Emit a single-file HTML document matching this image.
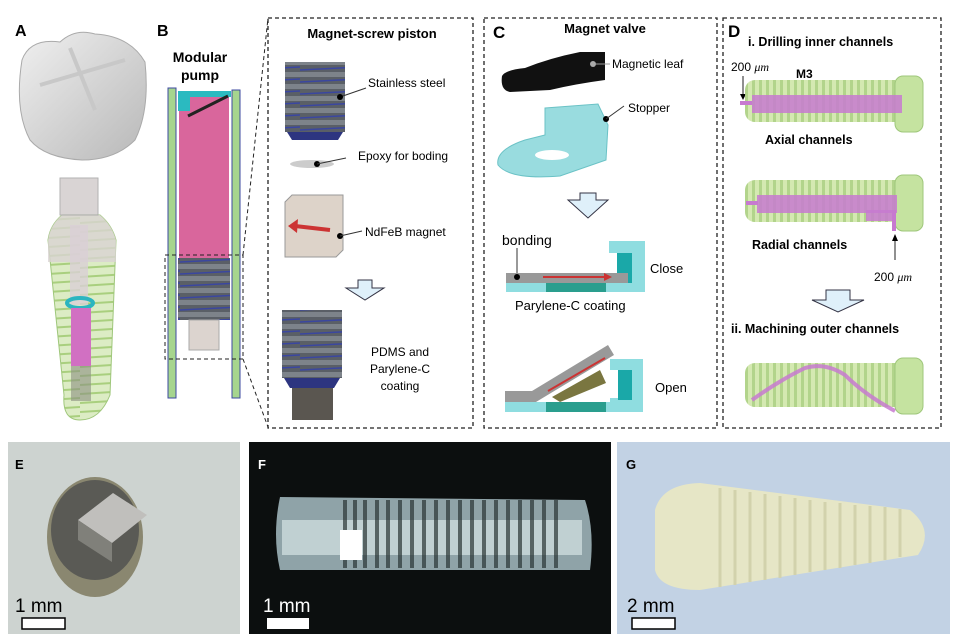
<!DOCTYPE html>
<html><head><meta charset="utf-8"><style>
body{margin:0;background:#fff;width:955px;height:640px;overflow:hidden}
svg{display:block}
text{font-family:"Liberation Sans",Arial,sans-serif}
.b{font-weight:bold}
</style></head><body>
<svg width="955" height="640" viewBox="0 0 955 640" xmlns="http://www.w3.org/2000/svg">
<defs>
<pattern id="thr" width="7" height="56" patternUnits="userSpaceOnUse"><rect width="7" height="56" fill="#cfe6a8"/><rect x="3" width="3" height="56" fill="#a9cf7e"/></pattern>
<pattern id="thrh" width="80" height="9" patternUnits="userSpaceOnUse"><rect width="80" height="9" fill="#dcecc4"/><line x1="0" y1="7" x2="80" y2="2" stroke="#a9cf7e" stroke-width="2"/></pattern>
<pattern id="scr" width="60" height="12" patternUnits="userSpaceOnUse"><rect width="60" height="12" fill="#5a5f66"/><rect y="0" width="60" height="5" fill="#7d838a"/><line x1="0" y1="10" x2="60" y2="7" stroke="#3a46a0" stroke-width="1.5"/></pattern>
<linearGradient id="crown" x1="0" y1="0" x2="1" y2="1"><stop offset="0" stop-color="#f0f0f0"/><stop offset="1" stop-color="#b8b8b8"/></linearGradient>
</defs>

<!-- A -->
<text x="15" y="36" font-size="16" class="b">A</text>
<path d="M22 60 Q30 38 60 42 Q75 28 95 34 Q130 36 145 62 Q150 110 135 140 Q115 160 82 160 Q45 158 30 140 Q14 110 22 60Z" fill="url(#crown)" stroke="#aaa"/>
<path d="M40 85 L125 60 M70 48 L95 110" stroke="#c8c8c8" stroke-width="4"/>
<path d="M48 240 Q50 225 62 215 L100 215 Q112 225 116 240 L110 395 Q100 420 80 420 Q62 420 64 395Z" fill="url(#thrh)" stroke="#9fc77b"/>
<path d="M48 240 Q50 225 62 215 L100 215 Q112 225 116 240 L116 262 L48 262Z" fill="#d9d3d3" opacity=".8"/>
<rect x="60" y="178" width="38" height="37" fill="#d5d0d0" stroke="#aaa" opacity=".9"/>
<rect x="70" y="225" width="18" height="80" fill="#d9cfd6" opacity=".8"/>
<ellipse cx="80" cy="303" rx="13" ry="5" fill="none" stroke="#2bb5c0" stroke-width="4"/>
<rect x="71" y="308" width="20" height="58" fill="#d170c2"/>
<rect x="71" y="366" width="20" height="35" fill="#8b9080" opacity=".6"/>

<!-- B -->
<text x="157" y="36" font-size="16" class="b">B</text>
<text x="200" y="62" font-size="14" class="b" text-anchor="middle">Modular</text>
<text x="200" y="80" font-size="14" class="b" text-anchor="middle">pump</text>
<rect x="168" y="88" width="8" height="310" fill="#a6d58e" stroke="#3d4aa0"/>
<rect x="232" y="90" width="8" height="308" fill="#a6d58e" stroke="#3d4aa0"/>
<rect x="179" y="92" width="50" height="166" fill="#d9669c"/>
<rect x="178" y="91" width="53" height="6" fill="#2bbac0"/>
<rect x="178" y="91" width="12" height="20" fill="#2bbac0"/>
<line x1="188" y1="116" x2="228" y2="96" stroke="#222" stroke-width="3"/>
<rect x="178" y="258" width="52" height="62" fill="url(#scr)"/>
<rect x="189" y="320" width="30" height="30" fill="#dcd4cf" stroke="#aaa"/>
<rect x="165" y="255" width="78" height="104" fill="none" stroke="#222" stroke-dasharray="4,3"/>
<line x1="243" y1="255" x2="268" y2="18" stroke="#222" stroke-dasharray="4,3"/>
<line x1="243" y1="359" x2="268" y2="427" stroke="#222" stroke-dasharray="4,3"/>
<rect x="268" y="18" width="205" height="410" fill="none" stroke="#222" stroke-dasharray="4,3" stroke-width="1.3"/>
<text x="372" y="38" font-size="13" class="b" text-anchor="middle">Magnet-screw piston</text>
<rect x="285" y="62" width="60" height="70" fill="url(#scr)"/>
<path d="M287 132 L343 132 L338 140 L292 140Z" fill="#2d3580"/>
<line x1="340" y1="97" x2="366" y2="88" stroke="#333"/><circle cx="340" cy="97" r="3"/>
<text x="368" y="87" font-size="12">Stainless steel</text>
<ellipse cx="312" cy="164" rx="22" ry="4" fill="#ccc"/>
<circle cx="317" cy="164" r="3"/><line x1="317" y1="164" x2="346" y2="158" stroke="#333"/>
<text x="358" y="160" font-size="12">Epoxy for boding</text>
<path d="M285 202 L292 195 L343 195 L343 250 L336 257 L285 257Z" fill="#ddd3c9" stroke="#999"/>
<line x1="330" y1="230" x2="295" y2="226" stroke="#c33" stroke-width="4"/>
<path d="M288 226 L298 219 L297 233Z" fill="#c33"/>
<circle cx="340" cy="236" r="3"/><line x1="340" y1="236" x2="362" y2="231" stroke="#333"/>
<text x="365" y="236" font-size="12">NdFeB magnet</text>
<path d="M346 288 L358 288 L358 280 L372 280 L372 288 L384 288 L365 300Z" fill="#dff0fa" stroke="#334"/>
<rect x="282" y="310" width="60" height="68" fill="url(#scr)"/>
<path d="M284 378 L340 378 L334 388 L290 388Z" fill="#2d3580"/>
<rect x="292" y="388" width="41" height="32" fill="#5a5650"/>
<text x="400" y="356" font-size="12" text-anchor="middle">PDMS and</text>
<text x="400" y="373" font-size="12" text-anchor="middle">Parylene-C</text>
<text x="400" y="390" font-size="12" text-anchor="middle">coating</text>

<!-- C -->
<rect x="484" y="18" width="233" height="410" fill="none" stroke="#222" stroke-dasharray="4,3" stroke-width="1.3"/>
<text x="493" y="38" font-size="17" class="b">C</text>
<text x="605" y="33" font-size="13" class="b" text-anchor="middle">Magnet valve</text>
<path d="M502 76 Q505 70 525 68 Q550 58 580 52 L605 52 L605 80 Q575 84 550 90 L510 92 Q500 90 502 76Z" fill="#111"/>
<circle cx="593" cy="64" r="3" fill="#aaa"/><line x1="596" y1="64" x2="610" y2="64" stroke="#999"/>
<text x="612" y="68" font-size="12">Magnetic leaf</text>
<path d="M545 108 L598 104 L608 125 L606 160 L560 176 Q510 180 498 165 Q495 150 525 140 L545 135Z" fill="#8fd9dc" stroke="#5bbcc0" opacity=".9"/>
<ellipse cx="552" cy="155" rx="17" ry="5" fill="#fff"/>
<circle cx="606" cy="119" r="3"/><line x1="606" y1="119" x2="624" y2="106" stroke="#333"/>
<text x="628" y="112" font-size="12">Stopper</text>
<path d="M568 200 L580 200 L580 193 L596 193 L596 200 L608 200 L588 218Z" fill="#dff0fa" stroke="#334"/>
<text x="502" y="245" font-size="14">bonding</text>
<line x1="517" y1="248" x2="517" y2="276" stroke="#333"/>
<rect x="506" y="282" width="139" height="10" fill="#8fdde0"/>
<rect x="546" y="282" width="60" height="10" fill="#2a9e8e"/>
<path d="M609 241 L645 241 L645 292 L609 292 L609 274 L625 274 L625 253 L609 253Z" fill="#8fdde0"/>
<rect x="617" y="253" width="15" height="30" fill="#1aa8a8"/>
<rect x="506" y="273" width="122" height="10" fill="#999"/>
<circle cx="517" cy="277" r="3"/>
<line x1="543" y1="277" x2="608" y2="277" stroke="#c33" stroke-width="2"/>
<path d="M612 277 L604 273 L604 281Z" fill="#c33"/>
<text x="650" y="273" font-size="13">Close</text>
<text x="515" y="310" font-size="13">Parylene-C coating</text>
<rect x="505" y="402" width="138" height="10" fill="#8fdde0"/>
<rect x="546" y="402" width="60" height="10" fill="#2a9e8e"/>
<path d="M610 359 L643 359 L643 412 L610 412 L610 398 L628 398 L628 370 L610 370Z" fill="#8fdde0"/>
<rect x="618" y="370" width="14" height="30" fill="#1aa8a8"/>
<path d="M552 397 L600 370 L606 383 L560 402Z" fill="#7a7640"/>
<path d="M505 391 L532 391 L608 345 L614 355 L536 402 L505 402Z" fill="#999"/>
<line x1="548" y1="391" x2="605" y2="358" stroke="#c33" stroke-width="2"/>
<text x="655" y="392" font-size="13">Open</text>

<!-- D -->
<rect x="723" y="18" width="218" height="410" fill="none" stroke="#222" stroke-dasharray="4,3" stroke-width="1.3"/>
<text x="728" y="37" font-size="17" class="b">D</text>
<text x="748" y="46" font-size="12.5" class="b">i. Drilling inner channels</text>
<text x="731" y="71" font-size="12">200 <tspan font-family="Liberation Serif" font-style="italic">μm</tspan></text>
<text x="796" y="78" font-size="12" class="b">M3</text>
<line x1="743" y1="76" x2="743" y2="98" stroke="#222"/>
<path d="M743 100 L740 94 L746 94Z"/>
<g>
<rect x="745" y="80" width="160" height="42" rx="10" fill="url(#thr)" opacity=".9"/>
<rect x="895" y="76" width="28" height="56" rx="8" fill="#c5e3a0" stroke="#9fc77b"/>
<rect x="752" y="95" width="150" height="18" fill="#c77ad0" opacity=".85"/>
<rect x="740" y="101" width="12" height="4" fill="#c77ad0"/>
</g>
<text x="765" y="144" font-size="12.5" class="b">Axial channels</text>
<g>
<rect x="745" y="180" width="160" height="42" rx="10" fill="url(#thr)" opacity=".9"/>
<rect x="895" y="175" width="28" height="56" rx="8" fill="#c5e3a0" stroke="#9fc77b"/>
<rect x="757" y="195" width="140" height="18" fill="#c77ad0" opacity=".85"/>
<rect x="866" y="210" width="30" height="11" fill="#c77ad0" opacity=".85"/>
<rect x="892" y="213" width="4" height="18" fill="#c77ad0"/>
<rect x="746" y="201" width="12" height="4" fill="#c77ad0"/>
</g>
<text x="752" y="249" font-size="12.5" class="b">Radial channels</text>
<line x1="895" y1="237" x2="895" y2="260" stroke="#222"/>
<path d="M895 234 L892 241 L898 241Z"/>
<text x="874" y="281" font-size="12">200 <tspan font-family="Liberation Serif" font-style="italic">μm</tspan></text>
<path d="M812 300 L826 300 L826 290 L850 290 L850 300 L864 300 L838 312Z" fill="#dff0fa" stroke="#334"/>
<text x="731" y="333" font-size="12.5" class="b">ii. Machining outer channels</text>
<g>
<rect x="745" y="363" width="160" height="44" rx="10" fill="url(#thr)" opacity=".9"/>
<rect x="895" y="358" width="28" height="56" rx="8" fill="#c5e3a0" stroke="#9fc77b"/>
<path d="M752 400 Q780 380 805 368 Q825 362 845 375 Q865 395 895 411" fill="none" stroke="#c77ad0" stroke-width="4" opacity=".85"/>
</g>

<!-- E -->
<rect x="8" y="442" width="232" height="192" fill="#cdd3d0"/>
<ellipse cx="95" cy="537" rx="48" ry="60" fill="#8a8770"/>
<ellipse cx="95" cy="530" rx="44" ry="50" fill="#5a5a55"/>
<path d="M78 520 L113 493 L147 515 L112 543Z" fill="#c0bfbc"/>
<path d="M78 520 L112 543 L112 562 L78 540Z" fill="#80807a"/>
<text x="15" y="469" font-size="13" class="b">E</text>
<text x="15" y="612" font-size="19">1 mm</text>
<rect x="22" y="618" width="43" height="11" fill="#fff" stroke="#000" stroke-width="1.5"/>

<!-- F -->
<rect x="249" y="442" width="362" height="192" fill="#0c0f0f"/>
<path d="M280 497 L585 500 Q595 530 590 570 L280 570 Q272 535 280 497Z" fill="#8fa3a8"/>
<rect x="282" y="520" width="300" height="35" fill="#c0d0d2"/>
<g stroke="#2a3535" stroke-width="4" opacity=".7">
<line x1="345" y1="500" x2="345" y2="568"/><line x1="355" y1="500" x2="355" y2="568"/><line x1="365" y1="500" x2="365" y2="568"/><line x1="377" y1="500" x2="377" y2="568"/><line x1="388" y1="500" x2="388" y2="568"/><line x1="400" y1="500" x2="400" y2="568"/><line x1="412" y1="500" x2="412" y2="568"/><line x1="424" y1="500" x2="424" y2="568"/><line x1="436" y1="500" x2="436" y2="568"/><line x1="448" y1="500" x2="448" y2="568"/><line x1="460" y1="500" x2="460" y2="568"/><line x1="472" y1="500" x2="472" y2="568"/><line x1="484" y1="500" x2="484" y2="568"/><line x1="496" y1="500" x2="496" y2="568"/><line x1="508" y1="500" x2="508" y2="568"/><line x1="520" y1="500" x2="520" y2="568"/><line x1="532" y1="500" x2="532" y2="568"/><line x1="544" y1="500" x2="544" y2="568"/><line x1="556" y1="500" x2="556" y2="568"/>
</g>
<rect x="340" y="530" width="22" height="30" fill="#fff"/>
<text x="258" y="469" font-size="13" class="b" fill="#fff">F</text>
<text x="263" y="612" font-size="19" fill="#fff">1 mm</text>
<rect x="267" y="618" width="42" height="11" fill="#fff"/>

<!-- G -->
<rect x="617" y="442" width="333" height="192" fill="#c2d2e4"/>
<path d="M655 510 Q662 484 700 483 L910 510 Q935 530 918 555 L700 590 Q660 590 655 570Z" fill="#e6e6c6"/>
<g stroke="#d2d2ac" stroke-width="3">
<line x1="720" y1="488" x2="720" y2="587"/><line x1="735" y1="490" x2="735" y2="585"/><line x1="750" y1="492" x2="750" y2="582"/><line x1="765" y1="494" x2="765" y2="580"/><line x1="780" y1="496" x2="780" y2="578"/><line x1="795" y1="498" x2="795" y2="575"/><line x1="810" y1="500" x2="810" y2="572"/><line x1="825" y1="502" x2="825" y2="570"/><line x1="840" y1="503" x2="840" y2="568"/><line x1="855" y1="505" x2="855" y2="565"/><line x1="870" y1="506" x2="870" y2="563"/><line x1="885" y1="507" x2="885" y2="560"/><line x1="900" y1="509" x2="900" y2="557"/>
</g>
<text x="626" y="469" font-size="13" class="b">G</text>
<text x="627" y="612" font-size="19">2 mm</text>
<rect x="632" y="618" width="43" height="11" fill="#fff" stroke="#000" stroke-width="1.5"/>
</svg>
</body></html>
